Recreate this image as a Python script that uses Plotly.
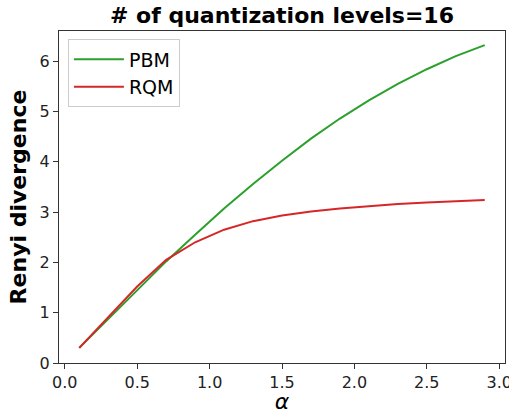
import plotly.graph_objects as go

alpha = [0.1, 0.3, 0.5, 0.7, 0.9, 1.1, 1.3, 1.5, 1.7, 1.9, 2.1, 2.3, 2.5, 2.7, 2.9]
pbm = [0.30, 0.88, 1.45, 2.02, 2.55, 3.07, 3.56, 4.02, 4.46, 4.86, 5.22, 5.55, 5.84, 6.10, 6.32]
rqm = [0.30, 0.92, 1.52, 2.05, 2.40, 2.65, 2.82, 2.93, 3.01, 3.07, 3.12, 3.16, 3.19, 3.22, 3.24]
x_ticks = [0.0, 0.5, 1.0, 1.5, 2.0, 2.5, 3.0]
y_ticks = [0, 1, 2, 3, 4, 5, 6]

font = "DejaVu Sans"
fig = go.Figure()
fig.add_trace(go.Scatter(x=alpha, y=pbm, mode="lines", name="PBM",
                         line=dict(color="#2ca02c", width=2)))
fig.add_trace(go.Scatter(x=alpha, y=rqm, mode="lines", name="RQM",
                         line=dict(color="#d62728", width=2)))

axis_common = dict(showline=True, linecolor="#333333", linewidth=1, mirror=True,
                   ticks="outside", ticklen=5, tickcolor="#333333", showgrid=False,
                   zeroline=False, ticklabeloverflow="allow", automargin=False,
                   tickfont=dict(family=font, size=16, color="#222222"))
fig.update_layout(
    width=509, height=414,
    margin=dict(l=59, r=4, t=31, b=51),
    paper_bgcolor="white", plot_bgcolor="white",
    title=dict(text="<b># of quantization levels=16</b>", x=282 / 509,
               xanchor="center", y=1 - 15 / 414, yanchor="middle",
               font=dict(family=font, size=22, color="black")),
    xaxis=dict(range=[-0.04, 3.04], tickvals=x_ticks, tickformat=".1f",
               title=dict(text="<i>α</i>", font=dict(family=font, size=22, color="black"), standoff=4),
               **axis_common),
    yaxis=dict(range=[0, 6.6], tickvals=y_ticks,
               title=dict(text="<b>Renyi divergence</b>", font=dict(family=font, size=22, color="black"), standoff=6),
               **axis_common),
    legend=dict(x=0.02, y=0.975, xanchor="left", yanchor="top",
                bgcolor="rgba(255,255,255,0.8)", bordercolor="#cccccc", borderwidth=1,
                itemwidth=50,
                font=dict(family=font, size=19, color="black"), tracegroupgap=0),
    showlegend=True,
)
fig.write_html("out.html")
